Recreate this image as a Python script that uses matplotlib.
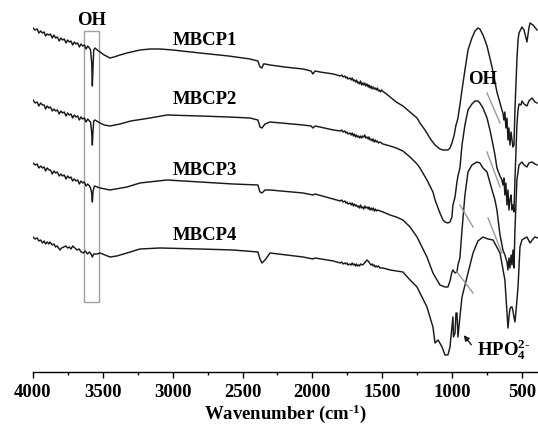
import numpy as np
import matplotlib.pyplot as plt

plt.rcParams['font.family'] = ['Liberation Serif', 'DejaVu Serif']
plt.rcParams['font.weight'] = 'bold'
plt.rcParams['mathtext.fontset'] = 'custom'
plt.rcParams['mathtext.rm'] = 'Liberation Serif:bold'
plt.rcParams['mathtext.it'] = 'Liberation Serif:bold'
plt.rcParams['mathtext.bf'] = 'Liberation Serif:bold'

# (wavenumber cm-1, downward deflection from the trace start, a.u.)
mbcp1 = [(4000, 0), (3985, 2), (3970, 1), (3958, 5), (3945, 3), (3932, 5), (3920, 4), (3910, 8),
         (3898, 6), (3886, 7), (3875, 6), (3862, 10), (3850, 7), (3838, 10), (3826, 9), (3812, 13),
         (3800, 10), (3788, 12), (3776, 11), (3764, 15), (3752, 12), (3740, 14), (3728, 13),
         (3716, 17), (3704, 14), (3692, 16), (3680, 15), (3668, 19), (3656, 16), (3644, 18),
         (3632, 17), (3620, 21), (3608, 18), (3596, 20), (3588, 22), (3580, 34), (3575, 58),
         (3570, 38), (3565, 22), (3556, 20), (3540, 22), (3520, 24), (3490, 27), (3449, 30),
         (3420, 29), (3377, 27), (3327, 25), (3234, 22), (3162, 21), (3091, 21), (3000, 22),
         (2805, 25), (2600, 28), (2447, 31), (2390, 33), (2375, 39), (2361, 40), (2350, 36),
         (2339, 36), (2303, 37), (2200, 39), (2067, 41), (2010, 43), (1996, 46), (1981, 43),
         (1946, 44), (1850, 46), (1800, 48), (1790, 47), (1780, 49), (1768, 48), (1760, 50),
         (1752, 49), (1745, 51), (1731, 50), (1722, 52), (1715, 50), (1706, 53), (1700, 52),
         (1690, 54), (1685, 52), (1676, 55), (1670, 54), (1662, 56), (1655, 53), (1647, 57),
         (1640, 55), (1632, 57), (1625, 55), (1617, 58), (1609, 56), (1600, 59), (1595, 57),
         (1587, 60), (1580, 58), (1572, 61), (1565, 59), (1557, 61), (1550, 60), (1542, 62),
         (1535, 60), (1527, 63), (1520, 62), (1512, 64), (1505, 62), (1490, 64), (1470, 66),
         (1444, 69), (1400, 74), (1352, 78), (1301, 84), (1251, 90), (1230, 95), (1194, 102),
         (1150, 112), (1122, 117), (1087, 121), (1065, 122), (1051, 122), (1030, 122),
         (1015, 120), (1001, 115), (985, 107), (972, 97), (965, 94), (958, 90), (944, 77),
         (929, 62), (908, 42), (886, 22), (858, 10), (836, 3), (815, 0), (801, 1), (779, 7),
         (765, 12), (750, 18), (729, 30), (714, 39), (693, 54), (679, 64), (657, 75), (643, 82),
         (636, 85), (629, 92), (622, 84), (615, 100), (607, 90), (600, 112), (593, 100),
         (586, 117), (578, 104), (571, 112), (564, 119), (557, 117), (550, 82), (536, 32),
         (528, 12), (521, 5), (500, -1), (485, 2), (464, 14), (450, 0), (442, -5), (421, -3),
         (392, 2)]

mbcp2 = [(4000, 0), (3985, 3), (3970, 2), (3958, 6), (3945, 3), (3932, 5), (3920, 5), (3910, 9),
         (3898, 6), (3886, 8), (3875, 7), (3862, 11), (3850, 9), (3838, 11), (3826, 10), (3812, 14),
         (3800, 11), (3788, 13), (3776, 12), (3764, 16), (3752, 13), (3740, 15), (3728, 14),
         (3716, 18), (3704, 15), (3692, 17), (3680, 16), (3668, 20), (3656, 17), (3644, 19),
         (3632, 18), (3620, 22), (3608, 19), (3596, 21), (3588, 22), (3580, 32), (3575, 45),
         (3570, 30), (3565, 21), (3556, 20), (3520, 23), (3490, 25), (3449, 26), (3377, 24),
         (3300, 21), (3162, 18), (3041, 15), (2805, 16), (2600, 17), (2447, 18), (2390, 20),
         (2375, 27), (2361, 28), (2339, 24), (2303, 22), (2067, 25), (2010, 26), (1996, 28),
         (1981, 26), (1946, 27), (1850, 30), (1800, 31), (1790, 30), (1780, 32), (1768, 31),
         (1760, 33), (1752, 32), (1745, 34), (1731, 33), (1722, 35), (1715, 33), (1706, 36),
         (1700, 34), (1690, 37), (1685, 35), (1676, 37), (1670, 36), (1662, 38), (1655, 36),
         (1647, 38), (1640, 36), (1632, 37), (1625, 35), (1617, 38), (1609, 37), (1600, 39),
         (1595, 37), (1587, 40), (1580, 39), (1572, 41), (1565, 39), (1557, 42), (1550, 40),
         (1542, 42), (1535, 41), (1527, 43), (1516, 42), (1495, 44), (1470, 45), (1444, 46),
         (1400, 48), (1352, 51), (1301, 57), (1251, 64), (1230, 68), (1180, 80), (1137, 92),
         (1122, 100), (1087, 113), (1065, 120), (1051, 122), (1030, 123), (1015, 122),
         (1001, 117), (994, 105), (979, 97), (965, 82), (958, 76), (944, 68), (929, 45), (908, 25),
         (886, 10), (858, 4), (836, 1), (815, 1), (801, 3), (779, 8), (750, 18), (729, 30),
         (714, 40), (693, 55), (679, 68), (657, 76), (643, 80), (636, 85), (629, 78), (622, 95),
         (615, 83), (607, 105), (600, 90), (593, 110), (586, 100), (578, 95), (571, 110),
         (564, 105), (557, 112), (550, 80), (536, 25), (528, 10), (521, 4), (507, 5), (500, 1),
         (485, 4), (464, 6), (450, 1), (428, -2), (407, 2), (392, 3)]

mbcp3 = [(4000, 0), (3985, 2), (3970, 1), (3958, 5), (3945, 3), (3932, 5), (3920, 4), (3910, 8),
         (3898, 5), (3886, 7), (3875, 7), (3862, 11), (3850, 8), (3838, 10), (3826, 9), (3812, 13),
         (3800, 11), (3788, 13), (3776, 12), (3764, 16), (3752, 13), (3740, 15), (3728, 14),
         (3716, 18), (3704, 16), (3692, 18), (3680, 17), (3668, 21), (3656, 18), (3644, 20),
         (3632, 19), (3620, 23), (3608, 21), (3596, 23), (3588, 25), (3580, 30), (3575, 39),
         (3570, 28), (3560, 23), (3520, 25), (3449, 27), (3327, 24), (3234, 20), (3041, 17),
         (2568, 21), (2390, 22), (2375, 29), (2361, 30), (2339, 27), (2303, 27), (2067, 30),
         (1996, 32), (1981, 31), (1850, 36), (1824, 37), (1800, 38), (1790, 37), (1780, 39),
         (1768, 38), (1760, 40), (1752, 39), (1745, 41), (1731, 40), (1722, 42), (1715, 40),
         (1706, 43), (1700, 41), (1690, 43), (1685, 42), (1676, 44), (1670, 43), (1662, 45),
         (1655, 42), (1647, 45), (1640, 44), (1632, 46), (1625, 43), (1617, 45), (1609, 44),
         (1600, 46), (1595, 44), (1587, 47), (1580, 45), (1572, 47), (1565, 45), (1557, 48),
         (1550, 46), (1542, 48), (1535, 47), (1516, 48), (1495, 49), (1444, 52), (1400, 54),
         (1352, 57), (1301, 64), (1251, 74), (1180, 94), (1137, 110), (1087, 122), (1051, 124),
         (1030, 124), (1015, 118), (1001, 109), (994, 107), (979, 110), (965, 109), (958, 102),
         (944, 95), (929, 67), (908, 32), (886, 9), (858, 2), (822, -1), (801, 0), (779, 5),
         (750, 9), (714, 27), (693, 37), (679, 47), (657, 72), (643, 82), (636, 87), (622, 92),
         (607, 99), (600, 107), (593, 95), (586, 105), (578, 92), (571, 102), (564, 87),
         (557, 105), (550, 67), (536, 17), (521, 2), (507, 0), (500, -1), (485, 2), (464, 4),
         (450, 0), (428, -1), (407, 1), (392, 2)]

mbcp4 = [(4000, 0), (3985, 2), (3970, 1), (3958, 4), (3945, 3), (3932, 6), (3920, 4), (3910, 7),
         (3898, 5), (3886, 7), (3878, 5), (3862, 8), (3850, 7), (3838, 10), (3826, 9), (3812, 12),
         (3807, 13), (3795, 11), (3780, 10), (3764, 9), (3752, 11), (3740, 10), (3728, 12),
         (3715, 9), (3700, 11), (3685, 13), (3670, 12), (3655, 15), (3640, 16), (3625, 14),
         (3610, 17), (3596, 15), (3585, 17), (3575, 20), (3565, 17), (3540, 17), (3520, 16),
         (3449, 20), (3400, 19), (3327, 16), (3234, 12), (3091, 11), (2805, 12), (2568, 13),
         (2390, 15), (2375, 22), (2361, 26), (2339, 23), (2303, 16), (2067, 20), (1996, 22),
         (1981, 21), (1850, 24), (1824, 25), (1800, 26), (1790, 25), (1780, 27), (1768, 26),
         (1760, 27), (1752, 26), (1745, 28), (1731, 27), (1722, 28), (1715, 26), (1706, 28),
         (1700, 27), (1690, 29), (1685, 27), (1676, 29), (1670, 28), (1662, 29), (1655, 27),
         (1640, 28), (1620, 25), (1609, 23), (1595, 25), (1587, 27), (1580, 28), (1572, 27),
         (1565, 29), (1557, 28), (1550, 30), (1542, 29), (1535, 30), (1527, 29), (1516, 31),
         (1495, 31), (1444, 33), (1400, 34), (1352, 35), (1301, 43), (1251, 50), (1180, 70),
         (1137, 90), (1122, 106), (1100, 103), (1072, 110), (1051, 118), (1030, 118), (1015, 110),
         (994, 80), (990, 100), (979, 96), (972, 76), (965, 76), (958, 100), (944, 80), (929, 60),
         (893, 40), (850, 16), (815, 4), (779, 0), (743, 2), (707, 3), (657, 16), (622, 43),
         (607, 75), (600, 91), (593, 80), (586, 72), (578, 70), (571, 70), (564, 74), (557, 80),
         (550, 85), (543, 75), (536, 63), (528, 50), (521, 30), (514, 10), (500, 3), (478, 1),
         (464, 0), (442, 6), (421, 2), (407, 0), (385, 1)]

spectra = [mbcp1, mbcp2, mbcp3, mbcp4]
names = ['MBCP1', 'MBCP2', 'MBCP3', 'MBCP4']
offsets = [344, 272, 209, 135]
label_y = [331, 272, 201, 136]

fig = plt.figure(figsize=(5.38, 4.26), dpi=100)
ax = fig.add_axes([0.0613, 0.1268, 0.9387, 0.8732])

for sp, off in zip(spectra, offsets):
    arr = np.array(sp, dtype=float)
    ax.plot(arr[:, 0], off - arr[:, 1], color='#1a1a1a', lw=1.05)

for nm, ly in zip(names, label_y):
    ax.text(2769, ly, nm, ha='center', va='center', fontsize=13.5, fontweight='bold')

# OH band box
ax.add_patch(plt.Rectangle((3528, 70), 107, 271, fill=False, ec='#a0a0a0', lw=1.0))
ax.text(3582, 351, 'OH', ha='center', va='center', fontsize=13.5, fontweight='bold')
ax.text(779, 292, 'OH', ha='center', va='center', fontsize=13.5, fontweight='bold')

grey = '#9a9a9a'
for (x0, y0, x1, y1) in [(750, 279, 657, 249), (750, 220, 657, 185), (743, 154, 643, 119),
                         (944, 167, 850, 145), (965, 100, 850, 79)]:
    ax.plot([x0, x1], [y0, y1], color=grey, lw=1.0)

ax.annotate('', xy=(929, 39), xytext=(850, 25),
            arrowprops=dict(arrowstyle='-|>', color='#1a1a1a', lw=1.0, mutation_scale=8))
ax.text(822, 22, r'HPO$_4^{2\text{-}}$', ha='left', va='center', fontsize=13.5,
        fontweight='bold')

ax.set_xlim(4000, 385)
ax.set_ylim(0, 372)
ax.set_xticks([4000, 3500, 3000, 2500, 2000, 1500, 1000, 500])
ax.set_xticks(np.arange(3750, 385, -500), minor=True)
ax.set_yticks([])
for s in ['left', 'right', 'top']:
    ax.spines[s].set_visible(False)
ax.spines['bottom'].set_linewidth(1.0)
ax.tick_params(axis='x', which='major', direction='out', length=4.5, width=1.0,
               labelsize=13.5, pad=4)
ax.tick_params(axis='x', which='minor', direction='out', length=2.5, width=1.0)
for lab in ax.get_xticklabels():
    lab.set_fontweight('bold')
ax.set_xlabel(r'Wavenumber (cm$^{\text{-}1}$)', fontsize=13.5, fontweight='bold',
              labelpad=1)

fig.savefig('out.png', dpi=100)
